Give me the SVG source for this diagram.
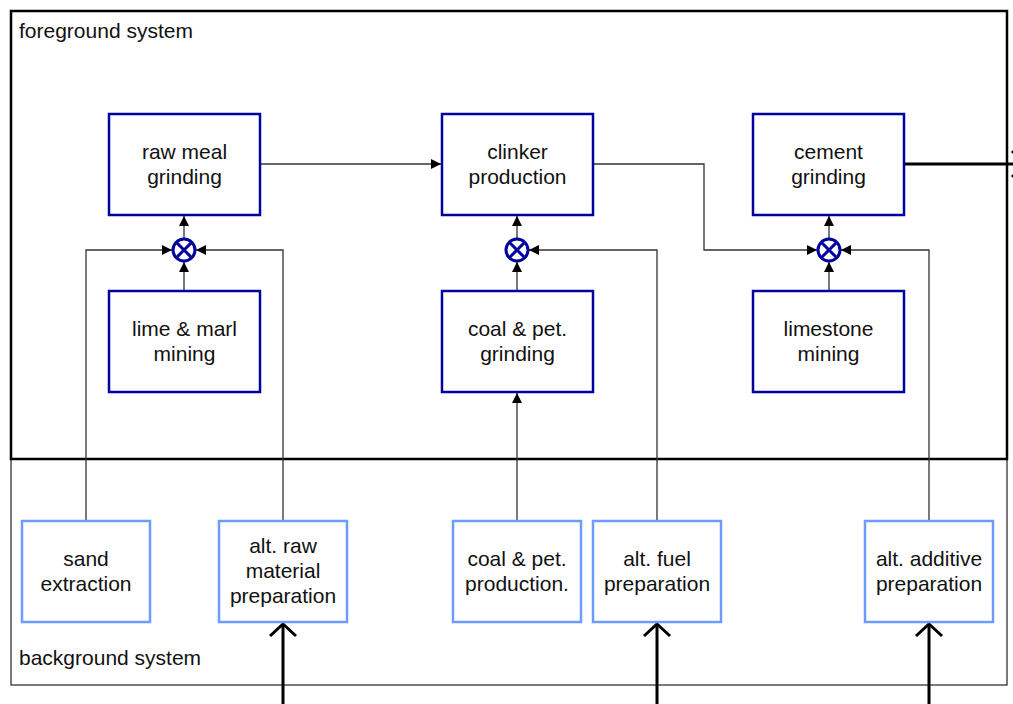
<svg xmlns="http://www.w3.org/2000/svg" width="1013" height="704" viewBox="0 0 1013 704">
<style>
text{font-family:"Liberation Sans",Arial,sans-serif;fill:#111;}
.n{font-size:21px;text-anchor:middle;}
.lbl{font-size:21px;}
.fg rect{fill:#fff;stroke:#0000a0;stroke-width:2.5;}
.bg rect{fill:#fff;stroke:#6b9dff;stroke-width:2.5;}
.cmb circle{fill:#fff;stroke:#0000a0;stroke-width:3;}
.cmb path{stroke:#0000a0;stroke-width:3;fill:none;}
.c{fill:none;stroke:#333;stroke-width:1.3;}
.t{fill:none;stroke:#000;stroke-width:3;}
</style>
<defs>
<marker id="a" viewBox="0 0 10 10" refX="10" refY="5" markerWidth="10" markerHeight="10" markerUnits="userSpaceOnUse" orient="auto">
<path d="M0,0 L10,5 L0,10 z" fill="#000"/>
</marker>
</defs>
<rect width="1013" height="704" fill="#fff"/>
<g id="frames">
<rect x="11" y="459" width="996" height="226" fill="none" stroke="#333" stroke-width="1.3"/>
<rect x="11" y="11" width="996" height="448" fill="none" stroke="#000" stroke-width="2.5"/>
<text class="lbl" x="19" y="38">foreground system</text>
<text class="lbl" x="19" y="665">background system</text>
</g>
<g id="connectors">
<path class="c" d="M260,164 H441" marker-end="url(#a)"/>
<path class="c" d="M593,164 H704 V250 H817" marker-end="url(#a)"/>
<path class="c" d="M184,238 V216" marker-end="url(#a)"/>
<path class="c" d="M184,291 V262" marker-end="url(#a)"/>
<path class="c" d="M86,520 V250 H172" marker-end="url(#a)"/>
<path class="c" d="M283,520 V250 H196" marker-end="url(#a)"/>
<path class="c" d="M517,238 V216" marker-end="url(#a)"/>
<path class="c" d="M517,291 V262" marker-end="url(#a)"/>
<path class="c" d="M657,520 V250 H529" marker-end="url(#a)"/>
<path class="c" d="M517,520 V393" marker-end="url(#a)"/>
<path class="c" d="M829,238 V216" marker-end="url(#a)"/>
<path class="c" d="M829,291 V262" marker-end="url(#a)"/>
<path class="c" d="M929,520 V250 H841" marker-end="url(#a)"/>
<path class="t" d="M905,164 H1030"/>
<path d="M1012,151 L1025,164 L1012,177" fill="none" stroke="#000" stroke-width="3"/>
<path class="t" d="M283,704 V625"/>
<path d="M270,636 L283,624 L296,636" fill="none" stroke="#000" stroke-width="3"/>
<path class="t" d="M657,704 V625"/>
<path d="M644,636 L657,624 L670,636" fill="none" stroke="#000" stroke-width="3"/>
<path class="t" d="M929,704 V625"/>
<path d="M916,636 L929,624 L942,636" fill="none" stroke="#000" stroke-width="3"/>
</g>
<g id="raw-meal-grinding" class="fg"><rect x="109" y="114" width="151" height="101"/><text class="n" x="184.5" y="159">raw meal</text><text class="n" x="184.5" y="184">grinding</text></g>
<g id="clinker-production" class="fg"><rect x="442" y="114" width="151" height="101"/><text class="n" x="517.5" y="159">clinker</text><text class="n" x="517.5" y="184">production</text></g>
<g id="cement-grinding" class="fg"><rect x="753" y="114" width="151" height="101"/><text class="n" x="828.5" y="159">cement</text><text class="n" x="828.5" y="184">grinding</text></g>
<g id="lime-marl-mining" class="fg"><rect x="109" y="291" width="151" height="101"/><text class="n" x="184.5" y="336">lime &amp; marl</text><text class="n" x="184.5" y="361">mining</text></g>
<g id="coal-pet-grinding" class="fg"><rect x="442" y="291" width="151" height="101"/><text class="n" x="517.5" y="336">coal &amp; pet.</text><text class="n" x="517.5" y="361">grinding</text></g>
<g id="limestone-mining" class="fg"><rect x="753" y="291" width="151" height="101"/><text class="n" x="828.5" y="336">limestone</text><text class="n" x="828.5" y="361">mining</text></g>
<g id="combiner-1" class="cmb"><circle cx="184" cy="250" r="11"/><path d="M176.5,242.5 L191.5,257.5 M191.5,242.5 L176.5,257.5"/></g>
<g id="combiner-2" class="cmb"><circle cx="517" cy="250" r="11"/><path d="M509.5,242.5 L524.5,257.5 M524.5,242.5 L509.5,257.5"/></g>
<g id="combiner-3" class="cmb"><circle cx="829" cy="250" r="11"/><path d="M821.5,242.5 L836.5,257.5 M836.5,242.5 L821.5,257.5"/></g>
<g id="sand-extraction" class="bg"><rect x="22" y="521" width="128" height="101"/><text class="n" x="86" y="566">sand</text><text class="n" x="86" y="591">extraction</text></g>
<g id="alt-raw-material" class="bg"><rect x="219" y="521" width="128" height="101"/><text class="n" x="283" y="553">alt. raw</text><text class="n" x="283" y="578">material</text><text class="n" x="283" y="603">preparation</text></g>
<g id="coal-pet-production" class="bg"><rect x="453" y="521" width="128" height="101"/><text class="n" x="517" y="566">coal &amp; pet.</text><text class="n" x="517" y="591">production.</text></g>
<g id="alt-fuel-preparation" class="bg"><rect x="593" y="521" width="128" height="101"/><text class="n" x="657" y="566">alt. fuel</text><text class="n" x="657" y="591">preparation</text></g>
<g id="alt-additive-preparation" class="bg"><rect x="865" y="521" width="128" height="101"/><text class="n" x="929" y="566">alt. additive</text><text class="n" x="929" y="591">preparation</text></g>
</svg>
